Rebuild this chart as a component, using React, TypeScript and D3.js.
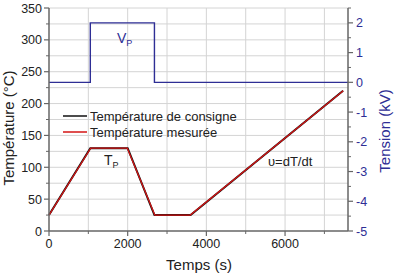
import { scaleLinear, line, range } from "d3";

// time (s) / temperature (°C) breakpoints of the heating programme
const setTime = [0, 1050, 2000, 2680, 3600, 7475];
const setTemp = [25, 130, 130, 25, 25, 220];
// measured temperature follows the set point closely
const measTime = [0, 1060, 1990, 2690, 3590, 7480];
const measTemp = [25, 130, 130, 25, 25, 220];
// applied voltage (kV)
const voltTime = [0, 1050, 1050, 2680, 2680, 7600];
const voltVal = [0, 0, 2, 2, 0, 0];

const xTicks = [0, 2000, 4000, 6000];
const yTicks = [0, 50, 100, 150, 200, 250, 300, 350];
const vTicks = [2, 1, 0, -1, -2, -3, -4, -5];

const W = 396;
const H = 274;
const left = 49;
const right = 348;
const top = 8;
const bottom = 231;

const FONT = "'Liberation Sans', Arial, sans-serif";
const NAVY = "#2e2e95";
const AXIS = "#666";

export default function App() {
  const x = scaleLinear().domain([0, 7600]).range([left, right]);
  const y = scaleLinear().domain([0, 350]).range([bottom, top]);
  const yv = scaleLinear().domain([-5, 2.5]).range([bottom, top]);

  const tLine = line<number>()
    .x((d) => x(d))
    .y((_, i) => y(setTemp[i]));
  const mLine = line<number>()
    .x((d) => x(d))
    .y((_, i) => y(measTemp[i]));
  const vLine = line<number>()
    .x((d) => x(d))
    .y((_, i) => yv(voltVal[i]));

  const xGrid = range(1000, 7600, 1000);
  const yGrid = range(25, 351, 25);
  const xMinor = range(1000, 7600, 2000);
  const yMinor = range(25, 350, 50);
  const vMinor = range(-4.5, 2.6, 1);

  return (
    <svg
      width={W}
      height={H}
      style={{ position: "absolute", left: 0, top: 0, background: "#fff" }}
      fontFamily={FONT}
    >
      {/* grid */}
      {xGrid.map((t) => (
        <line key={"gx" + t} x1={x(t)} x2={x(t)} y1={top} y2={bottom} stroke="#d4d4d4" strokeWidth={1} />
      ))}
      {yGrid.map((t) => (
        <line key={"gy" + t} x1={left} x2={right} y1={y(t)} y2={y(t)} stroke="#d4d4d4" strokeWidth={1} />
      ))}

      {/* series */}
      <path d={vLine(voltTime) ?? ""} fill="none" stroke={NAVY} strokeWidth={1.4} />
      <path d={tLine(setTime) ?? ""} fill="none" stroke="#111" strokeWidth={2} />
      <path d={mLine(measTime) ?? ""} fill="none" stroke="#d41414" strokeWidth={1.2} />

      {/* axes frame */}
      <line x1={left} x2={left} y1={top} y2={bottom} stroke={AXIS} strokeWidth={1.5} />
      <line x1={right} x2={right} y1={top} y2={bottom} stroke={AXIS} strokeWidth={1.5} />
      <line x1={left} x2={right} y1={bottom} y2={bottom} stroke={AXIS} strokeWidth={1.5} />

      {/* x ticks */}
      {xTicks.map((t) => (
        <g key={"xt" + t}>
          <line x1={x(t)} x2={x(t)} y1={bottom} y2={bottom + 5} stroke={AXIS} strokeWidth={1.2} />
          <text x={x(t)} y={bottom + 17} fontSize={12.5} textAnchor="middle" fill="#222">
            {t}
          </text>
        </g>
      ))}
      {xMinor.map((t) => (
        <line key={"xm" + t} x1={x(t)} x2={x(t)} y1={bottom} y2={bottom + 3} stroke={AXIS} strokeWidth={1} />
      ))}

      {/* left ticks */}
      {yTicks.map((t) => (
        <g key={"yt" + t}>
          <line x1={left - 5} x2={left} y1={y(t)} y2={y(t)} stroke={AXIS} strokeWidth={1.2} />
          <text x={left - 7} y={y(t) + 4.5} fontSize={12.5} textAnchor="end" fill="#222">
            {t}
          </text>
        </g>
      ))}
      {yMinor.map((t) => (
        <line key={"ym" + t} x1={left - 3} x2={left} y1={y(t)} y2={y(t)} stroke={AXIS} strokeWidth={1} />
      ))}

      {/* right ticks */}
      {vTicks.map((t) => (
        <g key={"vt" + t}>
          <line x1={right} x2={right + 5} y1={yv(t)} y2={yv(t)} stroke={AXIS} strokeWidth={1.2} />
          <text x={right + 8} y={yv(t) + 4.5} fontSize={12.5} textAnchor="start" fill={NAVY}>
            {t}
          </text>
        </g>
      ))}
      {vMinor.map((t) => (
        <line key={"vm" + t} x1={right} x2={right + 3} y1={yv(t)} y2={yv(t)} stroke={AXIS} strokeWidth={1} />
      ))}

      {/* axis titles */}
      <text x={199} y={270} fontSize={15} textAnchor="middle" fill="#222">
        Temps (s)
      </text>
      <text
        transform="translate(14,128) rotate(-90)"
        fontSize={15}
        textAnchor="middle"
        fill="#222"
      >
        Température (°C)
      </text>
      <text
        transform="translate(390,131) rotate(-90)"
        fontSize={15}
        textAnchor="middle"
        fill={NAVY}
      >
        Tension (kV)
      </text>

      {/* legend */}
      <line x1={63} x2={87} y1={116} y2={116} stroke="#111" strokeWidth={1.5} />
      <text x={90} y={120.5} fontSize={13} fill="#222">
        Température de consigne
      </text>
      <line x1={63} x2={87} y1={132} y2={132} stroke="#d41414" strokeWidth={1.5} />
      <text x={90} y={136.5} fontSize={13} fill="#222">
        Température mesurée
      </text>

      {/* annotations */}
      <text x={117} y={43} fontSize={14} fill={NAVY}>
        V<tspan fontSize={9} dy={3}>P</tspan>
      </text>
      <text x={104} y={165} fontSize={14} fill="#222">
        T<tspan fontSize={9} dy={3}>P</tspan>
      </text>
      <text x={268} y={166} fontSize={13} fill="#222">
        υ=dT/dt
      </text>
    </svg>
  );
}
